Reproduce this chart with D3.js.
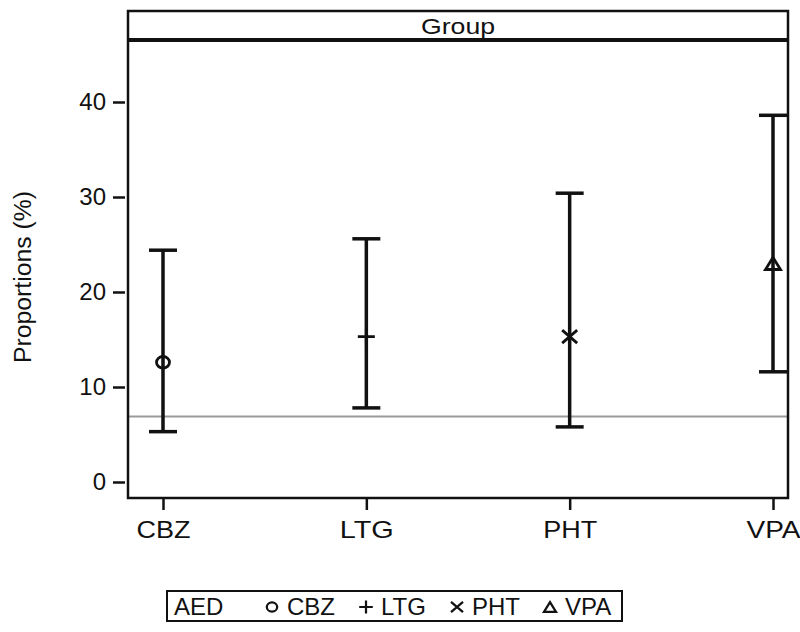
<!DOCTYPE html>
<html><head><meta charset="utf-8">
<script src="https://cdn.jsdelivr.net/npm/d3@7"></script>
<style>body{margin:0;background:#fff}text{font-family:"Liberation Sans",Arial,sans-serif}</style>
</head><body>
<script>
const categories = ["CBZ","LTG","PHT","VPA"];
const means = [12.6, 15.3, 15.3, 23.0];
const lowers = [5.3, 7.8, 5.8, 11.6];
const uppers = [24.4, 25.6, 30.4, 38.6];
const refValue = 6.9;
const yTicks = [0,10,20,30,40];
const symbols = ["circle","plus","x","triangle"];
const legendTitle = "AED";
const panelTitle = "Group";
const yTitle = "Proportions (%)";

const W=800,H=632;
const svg=d3.select("body").append("svg").attr("width",W).attr("height",H);
const L=128,R=788,T=11,B=498,headerB=40;
const y=d3.scaleLinear().domain([0,40]).range([482,102]);
const x=d3.scaleLinear().domain([0,3]).range([163,773]);
const FF="'Liberation Sans',Arial,sans-serif";

// reference line
svg.append("line").attr("x1",L).attr("x2",R).attr("y1",y(refValue)).attr("y2",y(refValue))
  .attr("stroke","#9a9a9a").attr("stroke-width",2);

// frame
svg.append("rect").attr("x",L).attr("y",T).attr("width",R-L).attr("height",B-T)
  .attr("fill","none").attr("stroke","#111").attr("stroke-width",2.5);
svg.append("line").attr("x1",L).attr("x2",R).attr("y1",headerB).attr("y2",headerB)
  .attr("stroke","#111").attr("stroke-width",4);
svg.append("text").attr("x",(L+R)/2).attr("y",34).attr("text-anchor","middle")
  .attr("font-size",22).attr("fill","#111").attr("textLength",74).attr("lengthAdjust","spacingAndGlyphs").text(panelTitle);

// y axis
const yAxis=d3.axisLeft(y).tickValues(yTicks).tickSize(12).tickPadding(7);
const gy=svg.append("g").attr("transform",`translate(${L-3},0)`).call(yAxis);
gy.select(".domain").remove();
gy.selectAll(".tick line").attr("stroke","#111").attr("stroke-width",2.5);
gy.selectAll(".tick text").attr("font-size",24).attr("fill","#111").style("font-family",FF);

// x axis
const xAxis=d3.axisBottom(x).tickValues([0,1,2,3]).tickFormat(i=>categories[i]).tickSize(11).tickPadding(12);
const gx=svg.append("g").attr("transform",`translate(0,${B+1})`).call(xAxis);
gx.select(".domain").remove();
gx.selectAll(".tick line").attr("stroke","#111").attr("stroke-width",2.5);
gx.selectAll(".tick text").attr("font-size",24).attr("fill","#111").style("font-family",FF)
  .attr("dy",null).attr("y",39).attr("textLength",54).attr("lengthAdjust","spacingAndGlyphs");

// y title
svg.append("text").attr("transform",`translate(31,277) rotate(-90)`)
  .attr("text-anchor","middle").attr("font-size",23).attr("fill","#111")
  .attr("textLength",172).attr("lengthAdjust","spacingAndGlyphs").text(yTitle);

// error bars
const g=svg.append("g");
const cap=14;
categories.forEach((c,i)=>{
  const cx=x(i);
  g.append("line").attr("x1",cx).attr("x2",cx).attr("y1",y(lowers[i])).attr("y2",y(uppers[i]))
    .attr("stroke","#111").attr("stroke-width",3.5);
  [lowers[i],uppers[i]].forEach(v=>{
    g.append("line").attr("x1",cx-cap).attr("x2",cx+cap).attr("y1",y(v)).attr("y2",y(v))
      .attr("stroke","#111").attr("stroke-width",3.5);
  });
  drawSym(g,symbols[i],cx,y(means[i]),1);
});

function drawSym(sel,s,cx,cy,k){
  let e;
  if(s==="circle"){e=sel.append("ellipse").attr("cx",cx).attr("cy",cy).attr("rx",6.5*k).attr("ry",5.8*k);}
  else if(s==="plus"){e=sel.append("path").attr("d",`M${cx-8.5*k},${cy}H${cx+8.5*k}M${cx},${cy-8*k}V${cy+8*k}`);}
  else if(s==="x"){const dx=7.5*k,dy=6.5*k;e=sel.append("path").attr("d",`M${cx-dx},${cy-dy}L${cx+dx},${cy+dy}M${cx-dx},${cy+dy}L${cx+dx},${cy-dy}`);}
  else {const dx=7.5*k,dy=6*k;e=sel.append("path").attr("d",`M${cx},${cy-dy}L${cx+dx},${cy+dy}L${cx-dx},${cy+dy}Z`);}
  e.attr("stroke","#111").attr("stroke-width",2.8*k).attr("fill","none");
}

// legend
const lg=svg.append("g");
lg.append("rect").attr("x",167).attr("y",591).attr("width",455).attr("height",30)
  .attr("fill","none").attr("stroke","#111").attr("stroke-width",2);
lg.append("text").attr("x",174).attr("y",615).attr("font-size",24).attr("fill","#111").text(legendTitle);
const lx=[272,366,457,550];
categories.forEach((c,i)=>{
  drawSym(lg,symbols[i],lx[i],607,0.8);
  lg.append("text").attr("x",lx[i]+15).attr("y",615).attr("font-size",24).attr("fill","#111").text(c);
});
</script>
</body></html>
